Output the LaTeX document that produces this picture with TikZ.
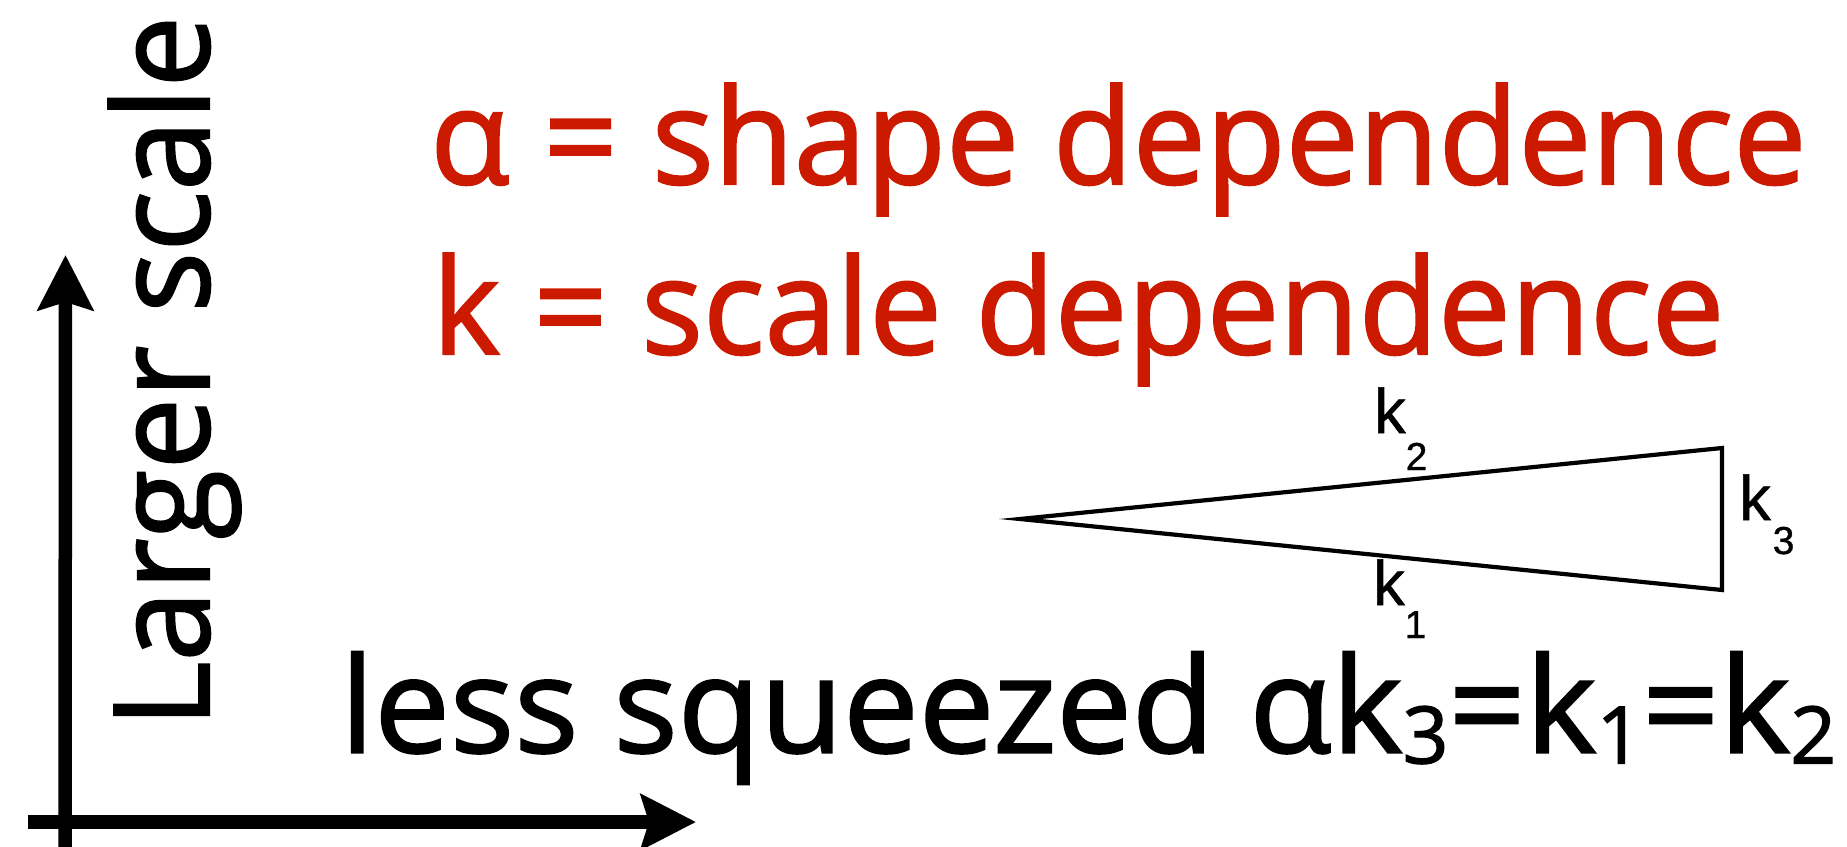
\documentclass[tikz,border=0pt]{standalone}
\usepackage{fontspec}
\setmainfont{Open Sans}[FakeBold=1.5]
\newfontfamily\trifont{Liberation Sans}[FakeBold=0.8]
\usetikzlibrary{arrows.meta}
\definecolor{redtxt}{RGB}{204,26,0}
\newcommand\lowsub[1]{\raisebox{-11pt}{\fontsize{80}{80}\selectfont #1}}
\newcommand\trisub[2]{\raisebox{-#1pt}{\fontsize{39}{39}\selectfont #2}}
\begin{document}
\begin{tikzpicture}[x=1pt,y=-1pt]
\useasboundingbox (0,0) rectangle (1847,846);
\tikzset{
  bigtext/.style={inner sep=0pt, anchor=base west, font=\fontsize{134}{134}\selectfont},
  axisline/.style={line width=13.5pt, -{Stealth[length=55pt,width=55pt,inset=8pt]}},
  triline/.style={line width=4.2pt, line join=miter},
  klabel/.style={inner sep=0pt, anchor=base west, font=\trifont\fontsize{63}{63}\selectfont},
}
% axes
\coordinate (vbot) at (65,860);
\coordinate (vtop) at (65.5,255);
\coordinate (hleft) at (27.5,822);
\coordinate (hright) at (696,822);
\draw[axisline] (vbot) -- (vtop);
\draw[axisline] (hleft) -- (hright);
% texts
\node[bigtext, rotate=90] (ylab) at (209,728) {\resizebox{712pt}{101pt}{Larger scale}};
\node[bigtext, text=redtxt] (alpha) at (430,184) {\resizebox{1376pt}{101pt}{α = shape dependence}};
\node[bigtext, text=redtxt] (kdef) at (432,354) {\resizebox{1292pt}{101pt}{k = scale dependence}};
\node[bigtext] (xlab) at (340,752.5) {\resizebox{1496pt}{101pt}{less squeezed αk\lowsub{3}=k\lowsub{1}=k\lowsub{2}}};
% triangle
\coordinate (A) at (1020,519);
\coordinate (B) at (1722,448);
\coordinate (C) at (1722,590);
\draw[triline] (A) -- (B) -- (C) -- cycle;
\node[klabel] (k2) at (1374,433) {k\trisub{37}{2}};
\node[klabel] (k3) at (1739,520) {k\kern2pt\trisub{34}{3}};
\node[klabel] (k1) at (1373,605) {k\trisub{33}{1}};
\end{tikzpicture}
\end{document}
